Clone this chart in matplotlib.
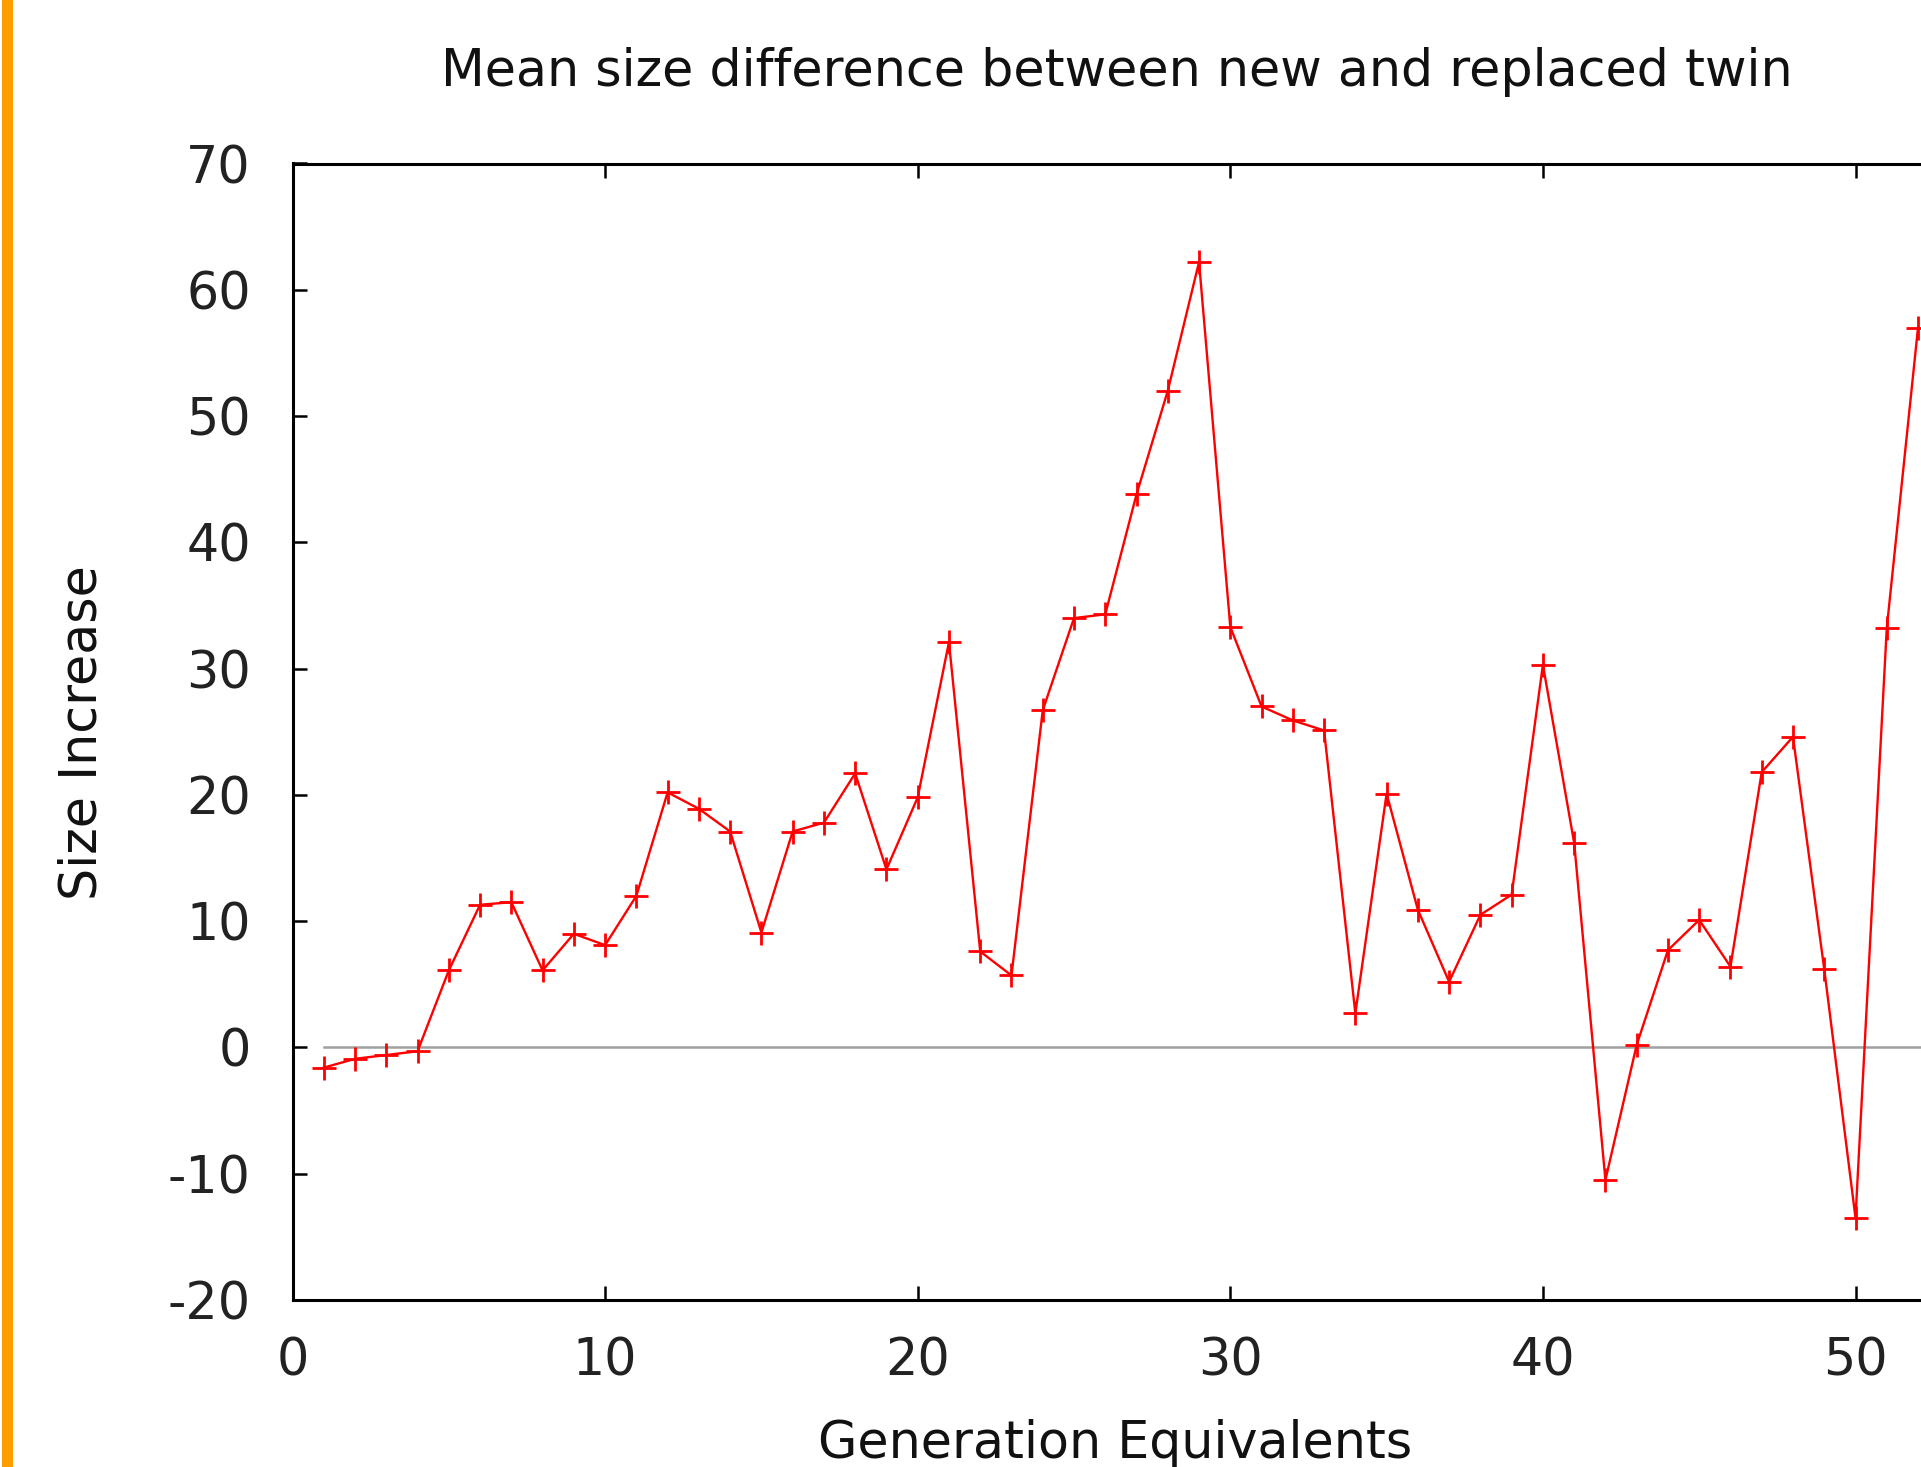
import matplotlib
matplotlib.use("Agg")
import matplotlib.pyplot as plt
from matplotlib.patches import Rectangle

# Data
generations = list(range(1, 53))
size_increase = [
    -1.6, -0.9, -0.6, -0.3, 6.1, 11.3, 11.5, 6.1, 9.0, 8.1,
    12.0, 20.2, 18.9, 17.1, 9.1, 17.1, 17.8, 21.7, 14.1, 19.8,
    32.1, 7.6, 5.7, 26.7, 34.0, 34.3, 43.8, 52.0, 62.2, 33.3,
    27.0, 25.9, 25.1, 2.7, 20.1, 10.9, 5.2, 10.5, 12.1, 30.3,
    16.2, -10.5, 0.2, 7.7, 10.1, 6.4, 21.8, 24.6, 6.2, -13.5,
    33.2, 57.0,
]
x_ticks = [0, 10, 20, 30, 40, 50]
y_ticks = [-20, -10, 0, 10, 20, 30, 40, 50, 60, 70]

title = "Mean size difference between new and replaced twin"
xlabel = "Generation Equivalents"
ylabel = "Size Increase"

plt.rcParams['font.family'] = ['DejaVu Sans']
FS = 36.5

W, H = 1921, 1467
fig = plt.figure(figsize=(W / 100, H / 100), dpi=100)
fig.patch.set_facecolor('white')

# axes: x=0 at 292.5px, 31.26 px/unit; y=70 at 163.5px, y=-20 at 1300px
left = 292.5 / W
bottom = (H - 1300) / H
height = (1300 - 163.5) / H
width = 60 * 31.26 / W
ax = fig.add_axes([left, bottom, width, height])

ax.set_xlim(0, 60)
ax.set_ylim(-20, 70)

# zero reference line
ax.plot([1, 60], [0, 0], color='#a0a0a0', linewidth=1.8, zorder=1)

ax.plot(generations, size_increase, color='#ff0000', linewidth=1.7,
        marker='+', markersize=17, markeredgewidth=2.0, zorder=3)

ax.set_xticks(x_ticks)
ax.set_yticks(y_ticks)
ax.set_xticklabels([str(v) for v in x_ticks])
ax.set_yticklabels([str(v) for v in y_ticks])

for s in ax.spines.values():
    s.set_linewidth(2.2)
    s.set_color('black')

ax.tick_params(axis='both', direction='in', length=10, width=1.8,
               labelsize=FS, colors='black', labelcolor='#222222')
ax.tick_params(axis='x', top=True, pad=26)
ax.tick_params(axis='y', right=True, pad=30)

fig.text(1117 / W, 1 - 86 / H, title, ha='center', va='baseline',
         fontsize=FS, color='#111111')
fig.text(1115 / W, 1 - 1458 / H, xlabel, ha='center', va='baseline',
         fontsize=FS, color='#111111')
fig.text(83 / W, 1 - 733 / H, ylabel, ha='center', va='center',
         rotation=90, fontsize=FS, color='#111111')

# orange band at the left edge
fig.patches.append(Rectangle((2 / W, 0), 11 / W, 1, transform=fig.transFigure,
                             facecolor='#ff9e00', edgecolor='none', zorder=10))

fig.savefig('out.png', dpi=100)
